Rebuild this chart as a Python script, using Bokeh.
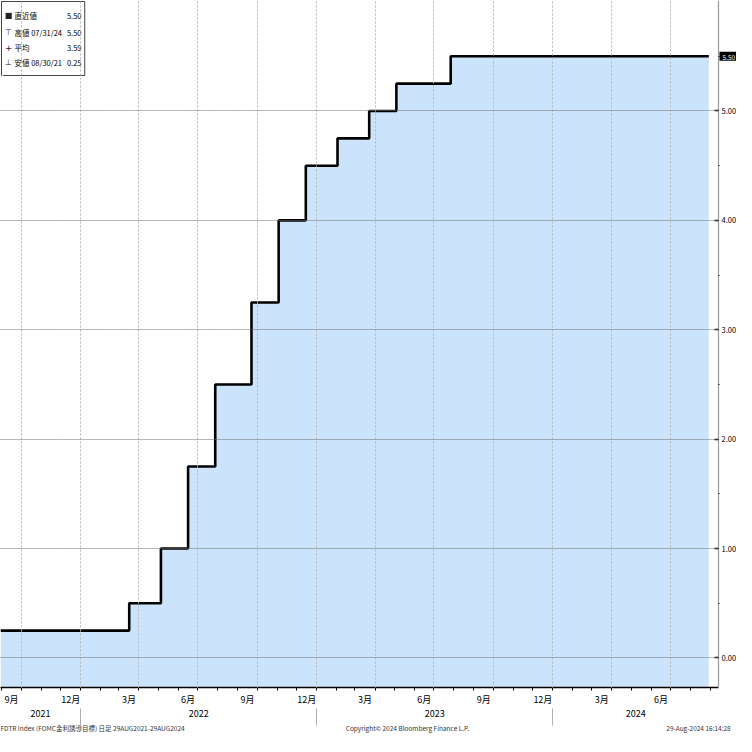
import pandas as pd
from bokeh.plotting import figure
from bokeh.models import Range1d, LinearAxis, FixedTicker, Label, Grid, ColumnDataSource
from bokeh.embed import file_html
from bokeh.resources import INLINE

# ---------------- data ----------------
change_dates = ["2021-08-30", "2022-03-17", "2022-05-05", "2022-06-16", "2022-07-28",
                "2022-09-22", "2022-11-03", "2022-12-15", "2023-02-02", "2023-03-23",
                "2023-05-04", "2023-07-27", "2024-08-29"]
rates = [0.25, 0.50, 1.00, 1.75, 2.50, 3.25, 4.00, 4.50, 4.75, 5.00, 5.25, 5.50, 5.50]

view_start = "2021-08-30"
axis_date = "2024-09-13"      # where the value axis sits
y_min, y_max = -0.27, 6.01

y_ticks = [0, 1, 2, 3, 4, 5]
y_tick_labels = ["0.00", "1.00", "2.00", "3.00", "4.00", "5.00"]
y_minor = [0.5, 1.5, 2.5, 3.5, 4.5, 5.5]
last_value_label = "5.50"
last_value = 5.50

label_months = ["2021-09", "2021-12", "2022-03", "2022-06", "2022-09", "2022-12",
                "2023-03", "2023-06", "2023-09", "2023-12", "2024-03", "2024-06"]
month_labels = ["9月", "12月", "3月", "6月", "9月", "12月", "3月", "6月", "9月", "12月", "3月", "6月"]
years = ["2021", "2022", "2023", "2024"]

legend_icons = ["■", "⊤", "+", "⊥"]
legend_names = ["直近値", "高値 07/31/24", "平均", "安値 08/30/21"]
legend_values = ["5.50", "5.50", "3.59", "0.25"]

footer_texts = ["FDTR Index (FOMC金利誘導目標)  日足 29AUG2021-29AUG2024",
                "Copyright© 2024 Bloomberg Finance L.P.",
                "29-Aug-2024 16:14:28"]
footer_px = [92, 407, 698]          # text centres, pixels from the plot's left edge

FONT = "Noto Sans CJK JP"
FILL = "#cce4fb"
W, H = 736, 736
AXIS_PX = 718                        # pixel position of the value axis
BORDER_B = 49


def ms(t):
    return int(pd.Timestamp(t).value // 10**6)


x_start, x_axis = ms(view_start), ms(axis_date)
per_px = (x_axis - x_start) / AXIS_PX
x_end = int(x_start + W * per_px)

# month ticks
month_starts = pd.date_range("2021-09-01", "2024-09-01", freq="MS")
minor_month = [ms(d) for d in month_starts]
mid_ticks, quarter_grid = [], []
for m in label_months:
    s = pd.Timestamp(m + "-01")
    e = s + pd.offsets.MonthBegin(1)
    mid_ticks.append(int((ms(s) + ms(e)) // 2))
    quarter_grid.append(ms(e))
month_over = {t: l for t, l in zip(mid_ticks, month_labels)}

year_bounds = [ms(f"{y}-01-01") for y in years[1:]]
year_centers = []
for y in years:
    a = max(ms(f"{y}-01-01"), x_start)
    b = min(ms(f"{int(y) + 1}-01-01"), x_axis)
    year_centers.append(int((a + b) // 2))
year_over = {t: l for t, l in zip(year_centers, years)}

footer_ticks = [int(x_start + px * per_px) for px in footer_px]
footer_over = {t: l for t, l in zip(footer_ticks, footer_texts)}

# ---------------- figure ----------------
p = figure(width=W, height=H, output_backend="svg", toolbar_location=None,
           x_range=Range1d(x_start, x_end), y_range=Range1d(y_min, y_max),
           x_axis_type=None, y_axis_type=None,
           min_border_left=0, min_border_top=0, min_border_right=0,
           min_border_bottom=BORDER_B)
p.outline_line_color = None
p.background_fill_color = "white"
p.border_fill_color = "white"

src = ColumnDataSource(dict(x=pd.to_datetime(change_dates), y=rates,
                            base=[y_min] * len(rates)))
p.varea_step(x="x", y1="base", y2="y", step_mode="after", fill_color=FILL, source=src)
p.step(x="x", y="y", mode="after", line_color="black", line_width=2.6, source=src)

vg = Grid(dimension=0, ticker=FixedTicker(ticks=quarter_grid), grid_line_color="#b5b5b5",
          grid_line_dash="2 2", grid_line_width=1, level="overlay")
hg = Grid(dimension=1, ticker=FixedTicker(ticks=y_ticks), grid_line_color="#6f6f6f",
          grid_line_dash="1 1", grid_line_width=1, level="overlay")
if "cross_bounds" in Grid.properties():
    hg.cross_bounds = (x_start, x_axis)
p.add_layout(vg)
p.add_layout(hg)


def style_labels(ax, size):
    ax.major_label_text_font = FONT
    ax.major_label_text_font_size = size
    ax.major_label_text_color = "black"


# bottom month axis
xa = LinearAxis(ticker=FixedTicker(ticks=mid_ticks, minor_ticks=minor_month),
                major_label_overrides=month_over, bounds=(x_start, x_axis))
xa.axis_line_color = "black"
xa.axis_line_width = 1.5
xa.major_tick_in = 0
xa.major_tick_out = 0
xa.minor_tick_in = 0
xa.minor_tick_out = 3
xa.minor_tick_line_color = "black"
xa.major_label_standoff = 2
style_labels(xa, "9px")
p.add_layout(xa, "below")

# bottom year axis (separators drawn as minor ticks)
yr = LinearAxis(ticker=FixedTicker(ticks=year_centers, minor_ticks=year_bounds),
                major_label_overrides=year_over)
yr.axis_line_color = None
yr.major_tick_in = 0
yr.major_tick_out = 0
yr.minor_tick_in = 0
yr.minor_tick_out = 17
yr.minor_tick_line_color = "#b0b0b0"
yr.major_label_standoff = -16
style_labels(yr, "9px")
p.add_layout(yr, "below")

# footer line
ft = LinearAxis(ticker=FixedTicker(ticks=footer_ticks, minor_ticks=[]),
                major_label_overrides=footer_over)
ft.axis_line_color = None
ft.major_tick_in = 0
ft.major_tick_out = 0
ft.minor_tick_in = 0
ft.minor_tick_out = 0
ft.major_label_standoff = 3
style_labels(ft, "6.5px")
ft.major_label_text_color = "#333333"
p.add_layout(ft, "below")

# right value axis, drawn at a fixed date inside the plot area
ra = LinearAxis(ticker=FixedTicker(ticks=y_ticks, minor_ticks=y_minor),
                major_label_overrides={t: l for t, l in zip(y_ticks, y_tick_labels)},
                fixed_location=x_axis)
ra.axis_line_color = "#9a9a9a"
ra.axis_line_width = 1.2
ra.major_tick_in = 4
ra.major_tick_out = 0
ra.major_tick_line_color = "black"
ra.major_tick_line_width = 1.5
ra.minor_tick_in = 0
ra.minor_tick_out = 1
ra.minor_tick_line_color = "black"
ra.major_label_standoff = 2
style_labels(ra, "7.5px")
p.add_layout(ra, "right")

# last value tag
p.add_layout(Label(x=x_axis, y=last_value, x_units="data", y_units="data", x_offset=1,
                   text=last_value_label, text_font=FONT, text_font_size="6.5px",
                   text_color="white", text_align="left", text_baseline="middle",
                   background_fill_color="black", padding=(3, 1, 3, 1)))

# legend box
p.add_layout(Label(x=x_start, y=y_max, x_units="data", y_units="data", x_offset=1, y_offset=-1,
                   text=".", text_color="white", text_font=FONT, text_font_size="8px",
                   text_align="left", text_baseline="top",
                   border_line_color="#444444", border_line_width=1,
                   background_fill_color="white", padding=(0, 81, 68, 0)))
row_y = [15, 32, 47, 62]
for i in range(4):
    p.add_layout(Label(x=x_start, y=y_max, x_units="data", y_units="data",
                       x_offset=8, y_offset=-row_y[i], text=legend_icons[i],
                       text_font="DejaVu Sans", text_font_size="8px", text_color="#222222",
                       text_align="center", text_baseline="middle"))
    p.add_layout(Label(x=x_start, y=y_max, x_units="data", y_units="data",
                       x_offset=14, y_offset=-row_y[i], text=legend_names[i],
                       text_font=FONT, text_font_size="7.5px", text_color="black",
                       text_align="left", text_baseline="middle"))
    p.add_layout(Label(x=x_start, y=y_max, x_units="data", y_units="data",
                       x_offset=81, y_offset=-row_y[i], text=legend_values[i],
                       text_font=FONT, text_font_size="7.5px", text_color="black",
                       text_align="right", text_baseline="middle"))

open("out.html", "w").write(file_html(p, INLINE))
